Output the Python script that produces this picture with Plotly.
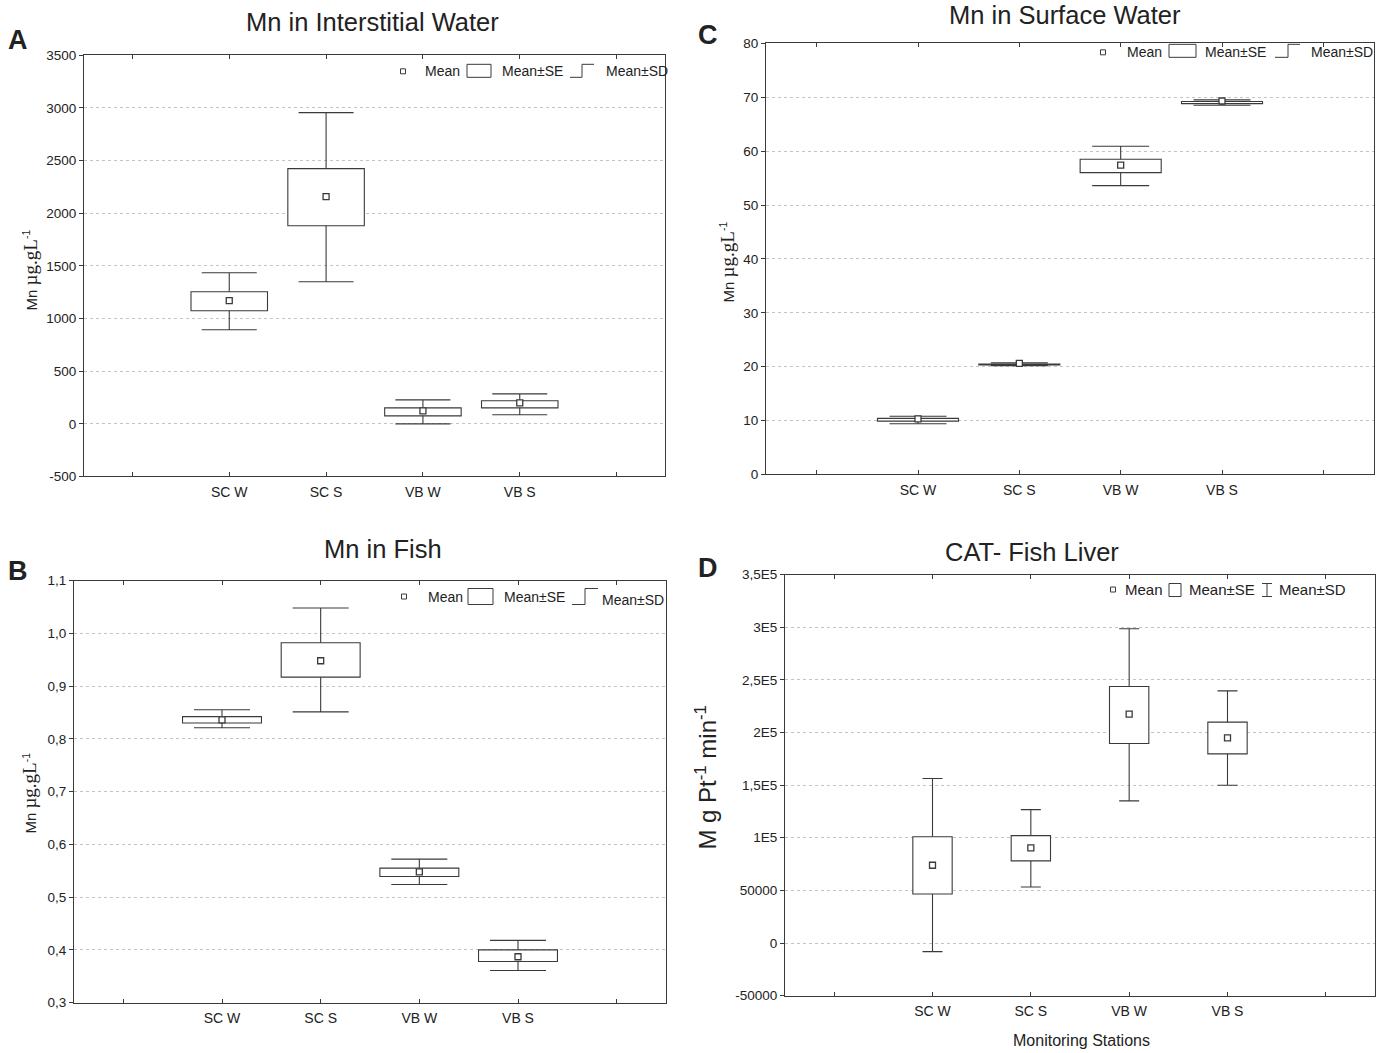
import plotly.graph_objects as go

# Page-to-screenshot mapping (measured): y_shot = Y0 + SY * y_layout
X0, SX = 0.0, 1.0
Y0, SY = 6.7, 0.9855
W = 1386
H = int(round((1053 - Y0) / SY))

categories = ["SC W", "SC S", "VB W", "VB S"]
cat_pos = [1, 2, 3, 4]
edge_ticks = [0, 5]

# Panel A: Mn in Interstitial Water
a_mean = [1170, 2158, 124, 200]
a_se_lo = [1074, 1882, 76, 152]
a_se_hi = [1255, 2424, 152, 219]
a_sd_lo = [894, 1350, 0, 86]
a_sd_hi = [1435, 2956, 228, 285]
a_ticks = [-500, 0, 500, 1000, 1500, 2000, 2500, 3000, 3500]
a_ticktext = ["-500", "0", "500", "1000", "1500", "2000", "2500", "3000", "3500"]

# Panel C: Mn in Surface Water
c_mean = [10.3, 20.6, 57.4, 69.3]
c_se_lo = [9.9, 20.3, 56.0, 68.8]
c_se_hi = [10.4, 20.5, 58.5, 69.2]
c_sd_lo = [9.4, 20.2, 53.6, 68.5]
c_sd_hi = [10.8, 20.7, 60.9, 69.5]
c_ticks = [0, 10, 20, 30, 40, 50, 60, 70, 80]
c_ticktext = ["0", "10", "20", "30", "40", "50", "60", "70", "80"]

# Panel B: Mn in Fish
b_mean = [0.836, 0.948, 0.548, 0.387]
b_se_lo = [0.830, 0.917, 0.539, 0.378]
b_se_hi = [0.842, 0.982, 0.555, 0.400]
b_sd_lo = [0.821, 0.851, 0.524, 0.361]
b_sd_hi = [0.855, 1.048, 0.572, 0.418]
b_ticks = [0.3, 0.4, 0.5, 0.6, 0.7, 0.8, 0.9, 1.0, 1.1]
b_ticktext = ["0,3", "0,4", "0,5", "0,6", "0,7", "0,8", "0,9", "1,0", "1,1"]

# Panel D: CAT - Fish Liver
d_mean = [73900, 90300, 217400, 194900]
d_se_lo = [46600, 78000, 189500, 179700]
d_se_hi = [101000, 102000, 243600, 209800]
d_sd_lo = [-8200, 53200, 135000, 149900]
d_sd_hi = [156200, 126700, 298500, 239500]
d_ticks = [-50000, 0, 50000, 100000, 150000, 200000, 250000, 300000, 350000]
d_ticktext = ["-50000", "0", "50000", "1E5", "1,5E5", "2E5", "2,5E5", "3E5", "3,5E5"]

FONT = "Arial, Liberation Sans, sans-serif"
SERIF = "Liberation Serif, Times New Roman, serif"
TXT = "#222222"
LINE = "#3a3a3a"


def px(x):
    return ((x - X0) / SX) / W


def py(y):
    return 1 - ((y - Y0) / SY) / H


panels = [
    dict(n=1, l=84, r=665, t=55, b=476, mean=a_mean, se_lo=a_se_lo, se_hi=a_se_hi,
         sd_lo=a_sd_lo, sd_hi=a_sd_hi, rng=[-500, 3500], tv=a_ticks, tt=a_ticktext,
         bw=0.79, cap=27.5),
    dict(n=2, l=766, r=1374, t=43, b=474, mean=c_mean, se_lo=c_se_lo, se_hi=c_se_hi,
         sd_lo=c_sd_lo, sd_hi=c_sd_hi, rng=[0, 80], tv=c_ticks, tt=c_ticktext,
         bw=0.80, cap=28.5),
    dict(n=3, l=74, r=666, t=580, b=1002, mean=b_mean, se_lo=b_se_lo, se_hi=b_se_hi,
         sd_lo=b_sd_lo, sd_hi=b_sd_hi, rng=[0.3, 1.1], tv=b_ticks, tt=b_ticktext,
         bw=0.80, cap=28.0),
    dict(n=4, l=785, r=1375, t=574, b=995, mean=d_mean, se_lo=d_se_lo, se_hi=d_se_hi,
         sd_lo=d_sd_lo, sd_hi=d_sd_hi, rng=[-50000, 350000], tv=d_ticks, tt=d_ticktext,
         bw=0.40, cap=10.0),
]

fig = go.Figure()
layout = dict(
    width=W, height=H,
    margin=dict(l=0, r=0, t=0, b=0),
    paper_bgcolor="white", plot_bgcolor="white",
    showlegend=False,
    font=dict(family=FONT, color=TXT, size=13),
)


def sfx(k):
    return "" if k == 1 else str(k)


for p in panels:
    n = p["n"]
    xa, ya = "x" + sfx(n), "y" + sfx(n)
    xo, yo = "x" + str(n + 4), "y" + str(n + 4)
    up = [h - m for h, m in zip(p["sd_hi"], p["mean"])]
    dn = [m - lo for m, lo in zip(p["mean"], p["sd_lo"])]
    # SD whiskers (base subplot, underneath the SE boxes)
    fig.add_trace(go.Scatter(
        x=cat_pos, y=p["mean"], mode="markers",
        marker=dict(size=1, opacity=0),
        error_y=dict(type="data", symmetric=False, array=up, arrayminus=dn,
                     width=p["cap"], thickness=1.1, color=LINE),
        xaxis=xa, yaxis=ya, hoverinfo="skip",
    ))
    # SE boxes (overlay subplot, on top)
    fig.add_trace(go.Bar(
        x=cat_pos, y=[h - lo for h, lo in zip(p["se_hi"], p["se_lo"])], base=p["se_lo"],
        width=p["bw"], marker=dict(color="white", line=dict(color=LINE, width=1.1)),
        xaxis=xo, yaxis=yo, hoverinfo="skip",
    ))
    # Means
    fig.add_trace(go.Scatter(
        x=cat_pos, y=p["mean"], mode="markers",
        marker=dict(symbol="square", size=6, color="white",
                    line=dict(color=LINE, width=1.3)),
        xaxis=xo, yaxis=yo, hoverinfo="skip",
    ))
    layout["xaxis" + sfx(n)] = dict(
        domain=[px(p["l"]), px(p["r"])], anchor=ya, range=[-0.5, 5.5],
        tickmode="array", tickvals=cat_pos, ticktext=categories,
        ticks="inside", ticklen=4,
        minor=dict(tickmode="array", tickvals=edge_ticks, ticks="inside", ticklen=4,
                   tickcolor=LINE, showgrid=False),
        tickcolor=LINE, showline=True, linecolor=LINE, linewidth=1, mirror="ticks",
        showgrid=False, zeroline=False, tickfont=dict(size=14, color=TXT),
        ticklabelstandoff=3,
    )
    layout["yaxis" + sfx(n)] = dict(
        domain=[py(p["b"]), py(p["t"])], anchor=xa, range=p["rng"],
        tickvals=p["tv"], ticktext=p["tt"], ticks="outside", ticklen=4,
        tickcolor=LINE, showline=True, linecolor=LINE, linewidth=1, mirror=True,
        showgrid=True, gridcolor="#c4c4c4", griddash="dot", gridwidth=1,
        zeroline=False, tickfont=dict(size=13.5, color=TXT),
    )
    layout["xaxis" + str(n + 4)] = dict(overlaying=xa, anchor=yo, range=[-0.5, 5.5],
                                        visible=False)
    layout["yaxis" + str(n + 4)] = dict(overlaying=ya, anchor=xo, range=p["rng"],
                                        visible=False)

annotations = []
shapes = []


def ann(x, y, text, size=13, xanchor="center", angle=0, bold=False, family=FONT):
    if bold:
        text = "<b>" + text + "</b>"
    annotations.append(dict(
        x=px(x), y=py(y), xref="paper", yref="paper", text=text, showarrow=False,
        xanchor=xanchor, yanchor="middle", textangle=angle,
        font=dict(size=size, color=TXT, family=family),
    ))


def line(x0, y0, x1, y1, w=1):
    shapes.append(dict(type="line", xref="paper", yref="paper",
                       x0=px(x0), y0=py(y0), x1=px(x1), y1=py(y1),
                       line=dict(color=LINE, width=w)))


def rect(x0, y0, x1, y1, w=1):
    shapes.append(dict(type="rect", xref="paper", yref="paper",
                       x0=px(x0), y0=py(y0), x1=px(x1), y1=py(y1),
                       line=dict(color=LINE, width=w), fillcolor="white"))


# Titles
ann(373, 22, "Mn in Interstitial Water", size=25.5)
ann(1065, 15, "Mn in Surface Water", size=25.5)
ann(383, 548, "Mn in Fish", size=25.5)
ann(1032, 551, "CAT- Fish Liver", size=25.5)

# Panel letters
ann(18, 40, "A", size=27, bold=True)
ann(708, 35, "C", size=27, bold=True)
ann(18, 570, "B", size=27, bold=True)
ann(708, 567, "D", size=27, bold=True)

# Y-axis titles
ylab = ("Mn <span style='font-family:" + SERIF + ";font-size:19px'>µg.gL</span>"
        "<sup>-1</sup>")
ann(30, 270, ylab, size=15, angle=-90)
ann(727, 262, ylab, size=15, angle=-90)
ann(30, 793, ylab, size=15, angle=-90)
ann(706, 777, "M g Pt<sup>-1</sup> min<sup>-1</sup>", size=24, angle=-90)

# X-axis title D
ann(1081, 1040, "Monitoring Stations", size=16)

# Legends
legends = [
    dict(y=71, sq=403, mean_x=423, bx0=467, bx1=491, bt=64, bb=77, se_x=500,
         wx0=570, wx1=594, wv=582, sd_x=604, sd_dy=0, fs=14, ibeam=False),
    dict(y=52, sq=1103, mean_x=1125, bx0=1169, bx1=1196, bt=44, bb=57, se_x=1203,
         wx0=1275, wx1=1300, wv=1288, sd_x=1309, sd_dy=0, fs=14, ibeam=False),
    dict(y=596, sq=404, mean_x=426, bx0=468, bx1=493, bt=588, bb=604, se_x=502,
         wx0=572, wx1=598, wv=585, sd_x=600, sd_dy=3, fs=14, ibeam=False),
    dict(y=589, sq=1113, mean_x=1123, bx0=1169, bx1=1181, bt=583, bb=596, se_x=1187,
         wx0=1262, wx1=1272, wv=1267, sd_x=1277, sd_dy=0, fs=15, ibeam=True),
]
for L in legends:
    rect(L["sq"] - 2.5, L["y"] - 2.5, L["sq"] + 2.5, L["y"] + 2.5)
    ann(L["mean_x"], L["y"], "Mean", size=L["fs"], xanchor="left")
    rect(L["bx0"], L["bt"], L["bx1"], L["bb"])
    ann(L["se_x"], L["y"], "Mean±SE", size=L["fs"], xanchor="left")
    line(L["wv"], L["bt"], L["wv"], L["bb"])
    if L["ibeam"]:
        line(L["wx0"], L["bt"], L["wx1"], L["bt"])
        line(L["wx0"], L["bb"], L["wx1"], L["bb"])
    else:
        line(L["wx0"], L["bb"], L["wv"], L["bb"])
        line(L["wv"], L["bt"], L["wx1"], L["bt"])
    ann(L["sd_x"], L["y"] + L["sd_dy"], "Mean±SD", size=L["fs"], xanchor="left")

layout["annotations"] = annotations
layout["shapes"] = shapes
fig.update_layout(**layout)

fig.write_html(
    "out.html",
    config={"displayModeBar": False},
    post_script="document.body.style.margin='0px';"
                "document.documentElement.style.overflow='hidden';",
)
